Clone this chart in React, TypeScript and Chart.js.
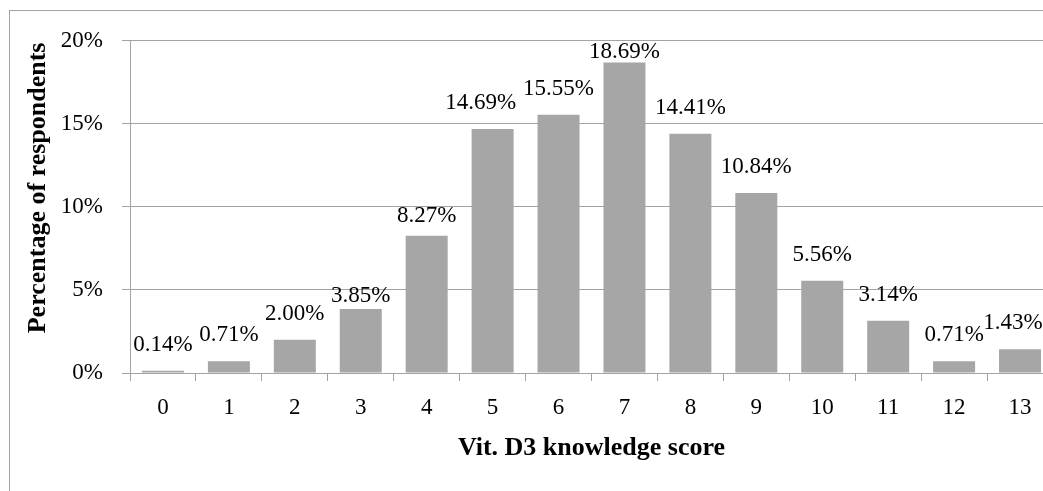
import React, { useEffect, useRef } from "react";
import { Chart, registerables } from "chart.js";

Chart.register(...registerables);

const categories = ["0", "1", "2", "3", "4", "5", "6", "7", "8", "9", "10", "11", "12", "13"];
const percentValues = [0.14, 0.71, 2.0, 3.85, 8.27, 14.69, 15.55, 18.69, 14.41, 10.84, 5.56, 3.14, 0.71, 1.43];
const valueLabels = ["0.14%", "0.71%", "2.00%", "3.85%", "8.27%", "14.69%", "15.55%", "18.69%", "14.41%", "10.84%", "5.56%", "3.14%", "0.71%", "1.43%"];
const yTicks = [0, 5, 10, 15, 20];
const xTitle = "Vit. D3 knowledge score";
const yTitle = "Percentage of respondents";

const FONT = "'Liberation Serif', 'Times New Roman', serif";
const LINE = "#a3a3a3";

// small label nudges (style only): index -> [dx, dy]
const labelNudges: Record<number, [number, number]> = { 3: [0, 13], 4: [0, 6], 5: [-12, 0], 13: [-7, 0] };

const labelPlugin = {
  id: "valueLabels",
  afterDatasetsDraw(chart: any) {
    const ctx = chart.ctx;
    const meta = chart.getDatasetMeta(0);
    ctx.save();
    ctx.font = `23px ${FONT}`;
    ctx.fillStyle = "#000";
    ctx.textAlign = "center";
    ctx.textBaseline = "middle";
    meta.data.forEach((bar: any, i: number) => {
      const n = labelNudges[i] || [0, 0];
      let y = bar.y - 26 + n[1];
      y = Math.max(y, chart.chartArea.top + 11);
      ctx.fillText(valueLabels[i], bar.x + n[0], y);
    });
    // y axis title (slightly above the plot centre, as in the source)
    const ca = chart.chartArea;
    ctx.font = `bold 26px ${FONT}`;
    ctx.translate(30, (ca.top + ca.bottom) / 2 - 19);
    ctx.rotate(-Math.PI / 2);
    ctx.fillText(yTitle, 0, 0);
    ctx.restore();
  },
};

const framePlugin = {
  id: "frame",
  beforeDraw(chart: any) {
    const ctx = chart.ctx;
    ctx.save();
    ctx.fillStyle = "#fff";
    ctx.fillRect(0, 0, chart.width, chart.height);
    ctx.fillStyle = LINE;
    ctx.fillRect(1, 2, chart.width, 1);
    ctx.fillRect(1, 2, 1, chart.height);
    ctx.restore();
  },
};

export default function App() {
  const ref = useRef<HTMLCanvasElement>(null);
  useEffect(() => {
    document.documentElement.style.overflow = "hidden";
    document.body.style.overflow = "hidden";
    if (!ref.current) return;
    const chart = new Chart(ref.current, {
      type: "bar",
      data: {
        labels: categories,
        datasets: [
          {
            data: percentValues,
            backgroundColor: "#a6a6a6",
            borderWidth: 0,
            categoryPercentage: 1,
            barPercentage: 0.637,
          },
        ],
      },
      options: {
        responsive: false,
        animation: false,
        devicePixelRatio: 1,
        layout: { padding: { top: 32, right: 25, left: 0, bottom: 0 } },
        plugins: { legend: { display: false }, tooltip: { enabled: false } },
        scales: {
          x: {
            grid: { drawOnChartArea: false, drawTicks: true, tickLength: 8, color: LINE, offset: true },
            border: { color: LINE, width: 1 },
            ticks: { color: "#000", font: { family: FONT, size: 23 }, padding: 13, maxRotation: 0 },
            title: {
              display: true,
              text: xTitle,
              color: "#000",
              font: { family: FONT, size: 26, weight: "bold" },
              padding: { top: 0, bottom: 44 },
            },
            afterFit(scale: any) {
              scale.height = 135;
            },
          },
          y: {
            min: 0,
            max: 20,
            afterBuildTicks(scale: any) {
              scale.ticks = yTicks.map((v) => ({ value: v }));
            },
            grid: { color: LINE, tickLength: 8, drawTicks: true },
            border: { color: LINE, width: 1 },
            ticks: {
              color: "#000",
              font: { family: FONT, size: 23 },
              padding: 19,
              callback: (v: any) => `${v}%`,
            },
            title: { display: false },
            afterFit(scale: any) {
              scale.width = 122;
            },
          },
        },
      },
      plugins: [framePlugin, labelPlugin],
    });
    return () => chart.destroy();
  }, []);
  return (
    <div style={{ position: "fixed", left: 8, top: 8, width: 1035, height: 483, overflow: "hidden" }}>
      <canvas ref={ref} width={1070} height={500} style={{ display: "block", width: 1070, height: 500 }} />
    </div>
  );
}
